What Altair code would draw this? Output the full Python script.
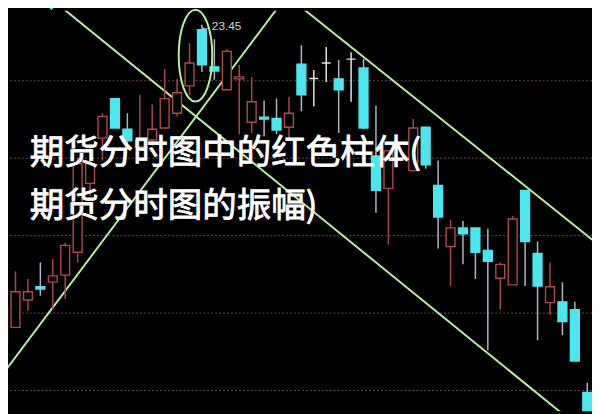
import altair as alt
import pandas as pd

# ---- candle data ----
days = [0, 1, 2, 3, 4, 5, 6, 7, 8, 9, 10, 11, 12, 13, 14, 15, 16, 17, 18, 19,
        20, 21, 22, 23, 24, 25, 26, 27, 28, 29, 30, 31, 33, 34, 35, 36, 37, 38,
        39, 40, 41, 42, 43, 44, 45, 46, 47]
opens = [15.27, 15.63, 16.34, 16.68, 16.80, 16.98, 17.57, 19.35, 20.52, 21.54,
         20.75, 20.29, 20.47, 20.78, 21.16, 21.87, 23.32, 22.36, 21.77, 22.05,
         20.93, 21.06, 21.03, 20.80, 22.43, 22.06, 22.46, 22.05, 22.56, 22.33,
         20.06, 19.22, 19.68, 20.80, 19.30, 17.72, 18.20, 18.20, 17.62, 16.90,
         16.73, 19.17, 17.54, 16.27, 16.29, 16.09, 13.95]
closes = [16.11, 16.55, 16.55, 16.62, 16.96, 17.75, 19.86, 19.86, 21.08, 20.78,
          20.45, 20.45, 20.75, 21.54, 21.69, 22.46, 22.41, 22.25, 22.76, 22.10,
          21.46, 21.01, 20.73, 21.16, 21.64, 22.06, 22.46, 21.77, 22.56, 20.78,
          19.17, 20.19, 20.78, 19.83, 18.48, 18.20, 18.05, 17.57, 17.34, 17.26,
          18.43, 17.85, 16.70, 16.68, 15.78, 14.76, 13.31]
highs = [16.24, 17.08, 16.88, 17.31, 17.39, 17.82, 20.01, 20.32, 21.16, 21.54,
         21.16, 21.64, 21.39, 22.31, 22.05, 22.97, 23.45, 23.07, 22.82, 22.41,
         22.10, 21.49, 21.54, 21.59, 22.92, 22.28, 22.87, 22.54, 22.74, 22.56,
         21.36, 20.19, 21.01, 20.80, 19.94, 18.41, 18.38, 18.20, 18.18, 17.31,
         18.51, 19.17, 17.85, 17.31, 16.80, 16.29, 14.20]
lows = [15.22, 15.63, 16.06, 16.45, 16.11, 16.37, 17.31, 19.04, 19.94, 20.78,
        20.37, 20.27, 20.32, 20.78, 21.08, 21.64, 22.23, 22.03, 21.77, 20.62,
        20.65, 20.57, 20.62, 20.45, 21.21, 21.34, 21.97, 20.65, 21.46, 20.75,
        18.59, 17.77, 19.68, 19.73, 17.67, 16.70, 17.26, 16.88, 15.04, 16.09,
        16.73, 16.70, 15.30, 15.96, 15.43, 14.76, 13.31]

grid_levels = [22, 20, 18, 16, 14]

# trend lines drawn on the chart (start / end points)
line_ids = ["a", "a", "b", "b", "c", "c"]
line_x = [3.89, 47.38, -0.64, 22.78, 23.17, 47.78]
line_y = [24.11, 12.78, 14.16, 24.18, 24.11, 17.80]

peak_day = 16
peak_price = 23.45
peak_label = "←23.45"
ellipse_day = [15.48]
ellipse_price = [22.65]
marker_day = [3.89]
marker_price = [23.91]

title_lines = ["期货分时图中的红色柱体(", "期货分时图的振幅)"]

# ---- build tables ----
def direction(o, c):
    if c > o:
        return "up"
    if c < o:
        return "down"
    return "flat"

df = pd.DataFrame({"day": days, "open": opens, "close": closes,
                   "high": highs, "low": lows})
df["dir"] = [direction(o, c) for o, c in zip(opens, closes)]

lines_df = pd.DataFrame({"id": line_ids, "x": line_x, "y": line_y})
grid_df = pd.DataFrame({"y": grid_levels})
ell_df = pd.DataFrame({"x": ellipse_day, "y": ellipse_price})
mk_df = pd.DataFrame({"x": marker_day, "y": marker_price})
lab_df = pd.DataFrame({"x": [peak_day], "y": [peak_price], "t": [peak_label]})
title_df = pd.DataFrame({"t": title_lines, "row": [0, 1]})

W, H = 592, 406
xs = alt.Scale(domain=[0.397, 47.38], nice=False, zero=False, padding=0)
ys = alt.Scale(domain=[13.465, 23.809], nice=False, zero=False, padding=0)
X = lambda f: alt.X(f, type="quantitative", scale=xs, axis=None)
Y = lambda f: alt.Y(f, type="quantitative", scale=ys, axis=None)

dirs = ["up", "down", "flat"]
wick_c = ["#a84848", "#b4b4c6", "#e4e4e4"]
fill_c = ["#000000", "#4ee6ee", "#e4e4e4"]
stroke_c = ["#b04a4a", "#4ee6ee", "#e4e4e4"]

grid = alt.Chart(grid_df).mark_rule(color="#6a5050", strokeDash=[2, 2],
                                     strokeWidth=1).encode(y=Y("y"))

wicks = alt.Chart(df).mark_rule(strokeWidth=1.5, clip=True).encode(
    x=X("day"), y=Y("low"), y2="high",
    color=alt.Color("dir:N", scale=alt.Scale(domain=dirs, range=wick_c), legend=None))

bodies = alt.Chart(df).mark_bar(width=9, strokeWidth=1.4, clip=True).encode(
    x=X("day"), y=Y("open"), y2="close",
    fill=alt.Fill("dir:N", scale=alt.Scale(domain=dirs, range=fill_c), legend=None),
    stroke=alt.Stroke("dir:N", scale=alt.Scale(domain=dirs, range=stroke_c), legend=None))

trend = alt.Chart(lines_df).mark_line(color="#b8eea0", strokeWidth=2, clip=True).encode(
    x=X("x"), y=Y("y"), detail="id:N")

ellipse = alt.Chart(ell_df).mark_point(
    shape="M0,-1A0.366,1,0,1,1,0,1A0.366,1,0,1,1,0,-1",
    size=8649, filled=False, color="#b8eea0", strokeWidth=2, opacity=1).encode(
    x=X("x"), y=Y("y"))

marker = alt.Chart(mk_df).mark_point(shape="diamond", filled=True, size=45,
                                     color="#4ee6ee", opacity=1).encode(x=X("x"), y=Y("y"))

label = alt.Chart(lab_df).mark_text(align="left", baseline="middle", dx=-2, dy=1,
                                    fontSize=12, font="Liberation Sans",
                                    color="#d4d4d4").encode(x=X("x"), y=Y("y"), text="t:N")

title = alt.Chart(title_df).mark_text(align="left", baseline="middle", fontSize=35,
                                      font="Noto Sans CJK SC",
                                      color="#ffffff", stroke="#ffffff",
                                      strokeWidth=0.8).encode(
    x=alt.value(22),
    y=alt.Y("row:Q", scale=alt.Scale(domain=[0, 1], range=[144, 198]), axis=None),
    text="t:N")

chart = alt.layer(grid, trend, wicks, bodies, ellipse, marker, label, title).resolve_scale(
    y="independent").properties(
    width=W, height=H, background="#000000", padding=0,
    autosize=alt.AutoSizeParams(type="none")
).configure_view(strokeWidth=0)

chart.save("out.html", embed_options={"renderer": "svg", "actions": False})
